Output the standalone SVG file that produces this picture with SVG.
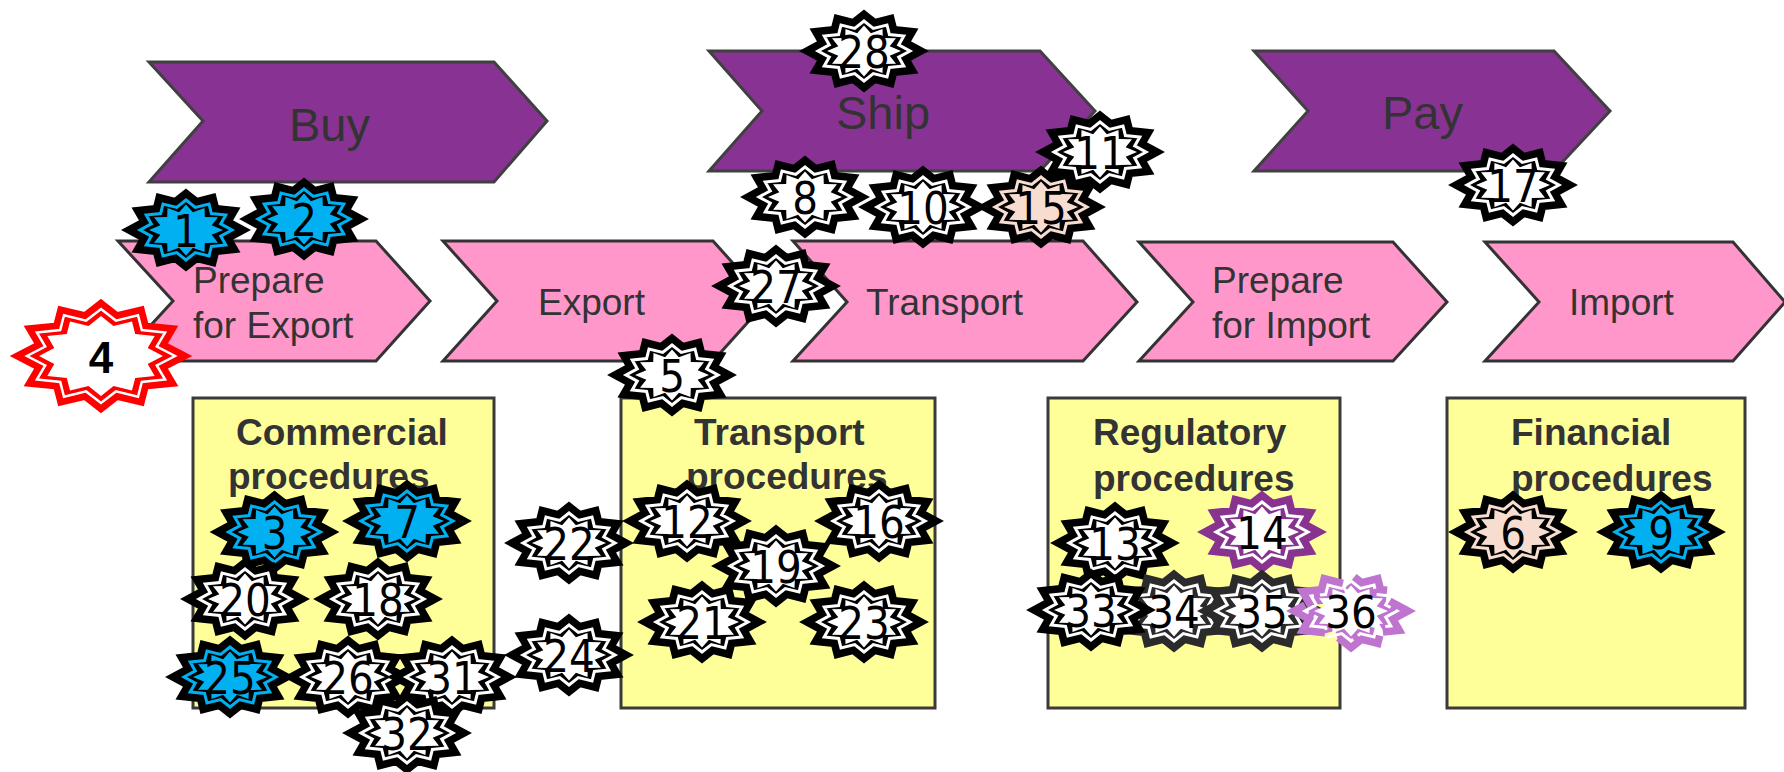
<svg xmlns="http://www.w3.org/2000/svg" width="1784" height="772" viewBox="0 0 1784 772">
<style>
.bg{fill:#fff}
.main{fill:#883393;stroke:#404040;stroke-width:3}
.step{fill:#FF97CA;stroke:#333;stroke-width:3}
.box{fill:#FFFF99;stroke:#3a3a3a;stroke-width:3}
.lbl{font-family:"Liberation Sans",Arial,sans-serif;fill:#333}
.big{font-size:47px}
.mid{font-size:37px}
.hd{font-size:37px;font-weight:700}
.band{fill:var(--b);stroke:var(--b);stroke-width:18;stroke-miterlimit:10;stroke-linejoin:miter}
.line{fill:none;stroke:var(--f);stroke-width:3;stroke-miterlimit:10}
.core{fill:var(--f)}
.num{font-family:"DejaVu Sans Condensed","DejaVu Sans",sans-serif;font-stretch:condensed;font-size:45px;fill:#000;text-anchor:middle}
.k{--b:#000;--f:#fff}
.blue{--b:#000;--f:#00B0F0}
.peach{--b:#000;--f:#F6DDD0}
.pur{--b:#87338F;--f:#fff}
.dk{--b:#2b2b2b;--f:#fff}
.red{--b:#FF0000;--f:#fff}
.band4{fill:var(--b);stroke:var(--b);stroke-width:16;stroke-miterlimit:10}
.line4{fill:none;stroke:var(--f);stroke-width:2.5;stroke-miterlimit:10}
.num4{font-family:"Liberation Sans",Arial,sans-serif;font-weight:700;font-size:44px;fill:#000;text-anchor:middle}
.dash{fill:none;stroke:#BF75D0;stroke-width:18;stroke-miterlimit:10;stroke-dasharray:46 13}
.dashcore{fill:#fff}
.dashline{fill:none;stroke:#fff;stroke-width:3;stroke-miterlimit:10;stroke-dasharray:30 6}
</style>
<defs>
<polygon id="p" points="0,-30 9.3,-22.6 23,-26 25.4,-16.5 39.8,-15 34.7,-6.1 46,0 34.7,6.1 39.8,15 25.4,16.5 23,26 9.3,22.6 0,30 -9.3,22.6 -23,26 -25.4,16.5 -39.8,15 -34.7,6.1 -46,0 -34.7,-6.1 -39.8,-15 -25.4,-16.5 -23,-26 -9.3,-22.6"/>
<polygon id="c" points="0,-25.5 6.9,-17.7 18.5,-22.1 18.8,-13 32,-12.8 25.7,-4.7 37,0 25.7,4.7 32,12.8 18.8,13 18.5,22.1 6.9,17.7 0,25.5 -6.9,17.7 -18.5,22.1 -18.8,13 -32,12.8 -25.7,4.7 -37,0 -25.7,-4.7 -32,-12.8 -18.8,-13 -18.5,-22.1 -6.9,-17.7"/>
<g id="star"><use href="#p" class="band"/><use href="#p" class="line"/><use href="#c" class="core"/></g>
<polygon id="p4" points="0,-47 14.9,-35.4 37,-40.7 40.8,-25.9 64.1,-23.5 55.8,-9.5 74,0 55.8,9.5 64.1,23.5 40.8,25.9 37,40.7 14.9,35.4 0,47 -14.9,35.4 -37,40.7 -40.8,25.9 -64.1,23.5 -55.8,9.5 -74,0 -55.8,-9.5 -64.1,-23.5 -40.8,-25.9 -37,-40.7 -14.9,-35.4"/>
<polygon id="c4" points="0,-40 12.5,-30.1 31,-34.6 34.2,-22.1 53.7,-20 46.7,-8.1 62,0 46.7,8.1 53.7,20 34.2,22.1 31,34.6 12.5,30.1 0,40 -12.5,30.1 -31,34.6 -34.2,22.1 -53.7,20 -46.7,8.1 -62,0 -46.7,-8.1 -53.7,-20 -34.2,-22.1 -31,-34.6 -12.5,-30.1"/>
</defs>
<rect class="bg" width="1784" height="772"/>
<g id="buy"><polygon class="main" points="149,62 494,62 547,121 494,182 149,182 203,121"/><text class="lbl big" x="289" y="141">Buy</text></g>
<g id="ship"><polygon class="main" points="709,51 1040,51 1095,111 1040,171 709,171 762,111"/><text class="lbl big" x="836" y="129">Ship</text></g>
<g id="pay"><polygon class="main" points="1254,51 1554,51 1610,111 1554,171 1254,171 1308,111"/><text class="lbl big" x="1382" y="129">Pay</text></g>
<g id="prepare-export"><polygon class="step" points="118,241 376,241 430,301 376,361 118,361 173,301"/><text class="lbl mid" x="193" y="293">Prepare</text><text class="lbl mid" x="193" y="338">for Export</text></g>
<g id="export"><polygon class="step" points="443,241 713,241 767,301 713,361 443,361 497,301"/><text class="lbl mid" x="538" y="315">Export</text></g>
<g id="transport"><polygon class="step" points="793,241 1083,241 1137,302 1083,361 793,361 847,302"/><text class="lbl mid" x="866" y="315">Transport</text></g>
<g id="prepare-import"><polygon class="step" points="1139,242 1393,242 1447,302 1393,361 1139,361 1193,302"/><text class="lbl mid" x="1212" y="293">Prepare</text><text class="lbl mid" x="1212" y="338">for Import</text></g>
<g id="import"><polygon class="step" points="1485,242 1733,242 1785,302 1733,361 1485,361 1539,302"/><text class="lbl mid" x="1569" y="315">Import</text></g>
<g id="commercial"><rect class="box" x="193" y="398" width="301" height="310"/><text class="lbl hd" x="236" y="445">Commercial</text><text class="lbl hd" x="228" y="489">procedures</text></g>
<g id="transport-proc"><rect class="box" x="621" y="398" width="314" height="310"/><text class="lbl hd" x="694" y="445">Transport</text><text class="lbl hd" x="686" y="489">procedures</text></g>
<g id="regulatory"><rect class="box" x="1048" y="398" width="292" height="310"/><text class="lbl hd" x="1093" y="445">Regulatory</text><text class="lbl hd" x="1093" y="491">procedures</text></g>
<g id="financial"><rect class="box" x="1447" y="398" width="298" height="310"/><text class="lbl hd" x="1511" y="445">Financial</text><text class="lbl hd" x="1511" y="491">procedures</text></g>
<g id="b1" class="blue" transform="translate(186,230)"><use href="#star"/><text class="num" y="17">1</text></g>
<g id="b2" class="blue" transform="translate(304,219)"><use href="#star"/><text class="num" y="17">2</text></g>
<g id="b3" class="blue" transform="translate(274.5,532)"><use href="#star"/><text class="num" y="17">3</text></g>
<g id="b4" class="red" transform="translate(101,356)"><use href="#p4" class="band4"/><use href="#p4" class="line4"/><use href="#c4" class="core"/><text class="num4" y="17">4</text></g>
<g id="b5" class="k" transform="translate(672,375)"><use href="#star"/><text class="num" y="17">5</text></g>
<g id="b6" class="peach" transform="translate(1513,532)"><use href="#star"/><text class="num" y="17">6</text></g>
<g id="b7" class="blue" transform="translate(407,521)"><use href="#star"/><text class="num" y="17">7</text></g>
<g id="b8" class="k" transform="translate(805,197)"><use href="#star"/><text class="num" y="17">8</text></g>
<g id="b9" class="blue" transform="translate(1661,532)"><use href="#star"/><text class="num" y="17">9</text></g>
<g id="b10" class="k" transform="translate(923,207)"><use href="#star"/><text class="num" y="17">10</text></g>
<g id="b11" class="k" transform="translate(1100,152)"><use href="#star"/><text class="num" y="17">11</text></g>
<g id="b12" class="k" transform="translate(687,521)"><use href="#star"/><text class="num" y="17">12</text></g>
<g id="b13" class="k" transform="translate(1115,543)"><use href="#star"/><text class="num" y="17">13</text></g>
<g id="b14" class="pur" transform="translate(1262,532)"><use href="#star"/><text class="num" y="17">14</text></g>
<g id="b15" class="peach" transform="translate(1041,207)"><use href="#star"/><text class="num" y="17">15</text></g>
<g id="b16" class="k" transform="translate(879,521)"><use href="#star"/><text class="num" y="17">16</text></g>
<g id="b17" class="k" transform="translate(1513,185)"><use href="#star"/><text class="num" y="17">17</text></g>
<g id="b18" class="k" transform="translate(378,599)"><use href="#star"/><text class="num" y="17">18</text></g>
<g id="b20" class="k" transform="translate(245,599)"><use href="#star"/><text class="num" y="17">20</text></g>
<g id="b21" class="k" transform="translate(702,622)"><use href="#star"/><text class="num" y="17">21</text></g>
<g id="b19" class="k" transform="translate(776,566)"><use href="#star"/><text class="num" y="17">19</text></g>
<g id="b22" class="k" transform="translate(569,543)"><use href="#star"/><text class="num" y="17">22</text></g>
<g id="b23" class="k" transform="translate(864,622)"><use href="#star"/><text class="num" y="17">23</text></g>
<g id="b24" class="k" transform="translate(569,655)"><use href="#star"/><text class="num" y="17">24</text></g>
<g id="b25" class="blue" transform="translate(230,677)"><use href="#star"/><text class="num" y="17">25</text></g>
<g id="b26" class="k" transform="translate(348,677)"><use href="#star"/><text class="num" y="17">26</text></g>
<g id="b27" class="k" transform="translate(776,286)"><use href="#star"/><text class="num" y="17">27</text></g>
<g id="b28" class="k" transform="translate(864,51)"><use href="#star"/><text class="num" y="17">28</text></g>
<g id="b31" class="k" transform="translate(452,677)"><use href="#star"/><text class="num" y="17">31</text></g>
<g id="b32" class="k" transform="translate(407,733)"><use href="#star"/><text class="num" y="17">32</text></g>
<g id="b34" class="dk" transform="translate(1174,611)"><use href="#star"/><text class="num" y="17">34</text></g>
<g id="b35" class="dk" transform="translate(1262,611)"><use href="#star"/><text class="num" y="17">35</text></g>
<g id="b33" class="k" transform="translate(1091,610)"><use href="#star"/><text class="num" y="17">33</text></g>
<g id="b36" transform="translate(1351,611)"><use href="#p" class="dash"/><use href="#p" class="dashline"/><use href="#c" class="dashcore"/><text class="num" y="17">36</text></g>
</svg>
